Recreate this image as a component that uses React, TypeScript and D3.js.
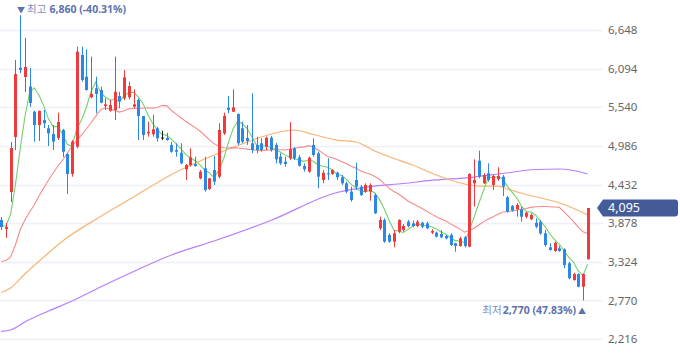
import React from 'react';
import * as d3 from 'd3';

const W = 680;
const H = 358;

// OHLC values, one entry per trading day (oldest first)
const opens = [3923, 3794, 4324, 5113, 6107, 5974, 5838, 5476, 5285, 5357, 5238, 5156, 5099, 5214, 4870, 4583, 4974, 6289, 5978, 5683,
  5812, 5787, 5558, 5491, 5501, 5701, 5668, 5683, 5548, 5644, 5415, 5166, 5152, 5238, 5106, 5099, 4999, 4927, 4888, 4650,
  4712, 4726, 4521, 4664, 4368, 4640, 4544, 5166, 5534, 5476, 5443, 5238, 5099, 5023, 4999, 5023, 4974, 5103, 4999, 4831,
  4759, 4808, 4951, 4822, 4697, 4616, 4999, 4880, 4497, 4593, 4583, 4601, 4535, 4449, 4329, 4497, 4401, 4329, 4329, 4281,
  3804, 3923, 3708, 3612, 3755, 3779, 3898, 3875, 3837, 3884, 3875, 3741, 3741, 3722, 3693, 3708, 3589, 3550, 3675, 3540,
  4449, 4773, 4449, 4593, 4425, 4507, 4544, 4248, 4124, 4076, 4076, 3970, 3933, 3884, 3898, 3732, 3531, 3478, 3517, 3503,
  3302, 3062, 3148, 2966, 3359];
const highs = [3966, 3880, 5042, 6218, 6860, 6533, 6103, 5490, 5495, 5501, 5285, 5285, 5462, 5230, 4880, 5070, 6408, 6408, 6371, 6265,
  5978, 5835, 5668, 5644, 6265, 5763, 6074, 5906, 5797, 5668, 5415, 5333, 5429, 5262, 5204, 5175, 5046, 5023, 5023, 4726,
  4951, 4831, 4640, 4831, 4525, 4841, 5310, 5462, 5701, 5797, 5453, 5333, 5285, 5740, 5118, 5095, 5118, 5130, 5030, 4880,
  4831, 5328, 4970, 4855, 4736, 4831, 5095, 4902, 4640, 4808, 4650, 4616, 4569, 4472, 4401, 4745, 4425, 4449, 4449, 4306,
  3970, 3947, 3732, 3779, 3933, 3866, 3923, 3913, 3923, 3898, 3898, 3789, 3755, 3779, 3708, 3732, 3597, 3683, 3693, 4593,
  4793, 4917, 4593, 4736, 4569, 4679, 4569, 4267, 4138, 4162, 4110, 4042, 4019, 3947, 3923, 3779, 3589, 3612, 3550, 3517,
  3325, 3167, 3157, 3157, 4095];
const lows = [3779, 3665, 4181, 4927, 6031, 5759, 5544, 5046, 5056, 5242, 4984, 4927, 5070, 4826, 4296, 4544, 4951, 5906, 5780, 5668,
  5453, 5596, 5501, 5476, 5357, 5525, 5644, 5654, 5525, 5070, 5070, 5118, 5118, 5046, 5070, 5060, 4888, 4831, 4726, 4497,
  4687, 4687, 4507, 4329, 4353, 4425, 4521, 5142, 5453, 5476, 4999, 5023, 4999, 4880, 4880, 4902, 4927, 4902, 4736, 4712,
  4687, 4783, 4783, 4687, 4616, 4601, 4831, 4378, 4449, 4497, 4569, 4497, 4425, 4306, 4186, 4353, 4267, 4315, 4200, 4009,
  3779, 3597, 3597, 3531, 3732, 3755, 3818, 3818, 3818, 3804, 3790, 3722, 3674, 3660, 3645, 3550, 3468, 3540, 3531, 3531,
  4114, 4521, 4439, 4472, 4353, 4487, 4267, 4028, 4042, 3970, 3898, 3947, 3923, 3804, 3708, 3540, 3483, 3468, 3468, 3230,
  3072, 3052, 2958, 2770, 3359];
const closes = [3822, 3822, 4955, 6017, 6074, 6117, 5601, 5285, 5486, 5310, 5166, 5046, 5328, 4902, 4583, 5046, 6337, 5931, 5787, 5730,
  5730, 5605, 5582, 5572, 5763, 5620, 5970, 5845, 5582, 5415, 5142, 5189, 5224, 5095, 5106, 5070, 4902, 4902, 4736, 4712,
  4822, 4697, 4616, 4353, 4521, 4472, 5214, 5415, 5501, 5539, 5023, 5046, 5056, 4927, 4927, 4927, 5103, 4927, 4793, 4736,
  4726, 4937, 4808, 4702, 4650, 4816, 4855, 4544, 4601, 4578, 4640, 4535, 4449, 4329, 4210, 4401, 4281, 4425, 4425, 4019,
  3923, 3612, 3612, 3732, 3923, 3837, 3837, 3837, 3898, 3827, 3804, 3765, 3683, 3675, 3660, 3564, 3550, 3660, 3550, 4583,
  4497, 4544, 4568, 4497, 4554, 4554, 4401, 4042, 4056, 4138, 3970, 4028, 3995, 3827, 3732, 3564, 3493, 3597, 3478, 3277,
  3087, 3148, 2966, 3148, 4095];

const ma5Head = [3837, 3837, 4009, 4425];
const ma20Head = [3328, 3342, 3392, 3564, 3779, 3923, 4038, 4138, 4267, 4382, 4497, 4597, 4697, 4783, 4884, 4984, 5070, 5142, 5228];

// 60-day and 120-day averages (candle index, value)
const ma60Idx = [0, 2, 5, 9, 13, 21, 28, 36, 45, 50, 55, 60, 62, 66, 71, 75, 79, 83, 87, 92, 96, 99, 101, 105, 107, 111, 115, 119, 122, 124];
const ma60Vals = [2883, 2948, 3148, 3392, 3622, 3973, 4253, 4575, 4855, 4991, 5113, 5199, 5214, 5149, 5068, 5042, 4913, 4805, 4712, 4568, 4475, 4425, 4410, 4410, 4368, 4289, 4224, 4145, 4059, 3995];
const ma120Idx = [0, 2, 5, 10, 15, 21, 28, 36, 45, 57, 71, 78, 85, 92, 99, 106, 113, 118, 121, 124];
const ma120Vals = [2324, 2345, 2460, 2618, 2761, 2962, 3184, 3421, 3622, 3916, 4317, 4401, 4446, 4497, 4532, 4590, 4647, 4654, 4633, 4583];

const yTicks = [2216, 2770, 3324, 3878, 4432, 4986, 5540, 6094, 6648];
const highPrice = 6860;
const highPct = '(-40.31%)';
const lowPrice = 2770;
const lowPct = '(47.83%)';
const lastPrice = 4095;

const UP = '#ef3b3d';
const DOWN = '#2b88e6';
const fmt = d3.format(',');

export default function App() {
  const N = closes.length;
  const x = d3.scaleLinear().domain([0, N - 1]).range([1.2, 587.7]);
  const y = d3.scaleLinear().domain([2216, 6648]).range([339, 30]);

  const ma5 = closes.map((_, i) => (i < 4 ? ma5Head[i] : d3.mean(closes.slice(i - 4, i + 1)) as number));
  const ma20 = closes.map((_, i) => (i < 19 ? ma20Head[i] : d3.mean(closes.slice(i - 19, i + 1)) as number));

  const lineIdx = d3.line<number>().x((_, i) => x(i)).y((v) => y(v));
  const linePts = d3.line<[number, number]>().x((d) => x(d[0])).y((d) => y(d[1])).curve(d3.curveMonotoneX);

  const hiIdx = highs.indexOf(highPrice);
  const loIdx = lows.indexOf(lowPrice);
  const font = '"Noto Sans", "Noto Sans CJK KR", sans-serif';

  return (
    <svg width={W} height={H} style={{ position: 'fixed', left: 0, top: 0, background: '#fff' }} fontFamily={font}>
      {yTicks.map((t) => (
        <g key={t}>
          <line x1={0} x2={603} y1={Math.round(y(t)) + 0.5} y2={Math.round(y(t)) + 0.5} stroke="#eef0f7" strokeWidth={1.3} />
          <text x={608} y={y(t)} dy="0.36em" fontSize={11.5} fill="#666">{fmt(t)}</text>
        </g>
      ))}
      <path d={linePts(ma120Idx.map((d, i) => [d, ma120Vals[i]])) || ''} fill="none" stroke="#b77dfb" strokeWidth={1.2} />
      <path d={linePts(ma60Idx.map((d, i) => [d, ma60Vals[i]])) || ''} fill="none" stroke="#f8b474" strokeWidth={1.2} />
      <path d={lineIdx(ma20) || ''} fill="none" stroke="#f78a8a" strokeWidth={1.1} />
      <path d={lineIdx(ma5) || ''} fill="none" stroke="#74d06a" strokeWidth={1.1} />
      {closes.map((c, i) => {
        const o = opens[i];
        const col = c > o ? UP : c < o ? DOWN : '#222';
        const cx = Math.round(x(i));
        const top = y(Math.max(o, c));
        const h = Math.max(1, Math.abs(y(o) - y(c)));
        return (
          <g key={i}>
            <line x1={cx + 0.5} x2={cx + 0.5} y1={y(highs[i])} y2={y(lows[i])} stroke={col} strokeWidth={1} />
            <rect x={cx - 1} y={top} width={3} height={h} fill={col} />
          </g>
        );
      })}
      <text x={x(hiIdx)} y={13} fontSize={10.5} fill="#5d71ad" textAnchor="start" dx={-3}>
        <tspan fontSize={8}>▼</tspan>
        <tspan fill="#7b8cc0" dx={2}>최고</tspan>
        <tspan fontWeight="bold" dx={3}>{fmt(highPrice)} {highPct}</tspan>
      </text>
      <text x={x(loIdx) + 3} y={314} fontSize={10.5} fill="#5d71ad" textAnchor="end">
        <tspan fill="#7b8cc0">최저</tspan>
        <tspan fontWeight="bold" dx={1}>{fmt(lowPrice)} {lowPct}</tspan>
        <tspan fontSize={8} dx={2}>▲</tspan>
      </text>
      <path
        d={`M597,${y(lastPrice)} L603,${y(lastPrice) - 8.5} H675 Q678,${y(lastPrice) - 8.5} 678,${y(lastPrice) - 5.5} V${y(lastPrice) + 5.5} Q678,${y(lastPrice) + 8.5} 675,${y(lastPrice) + 8.5} H603 Z`}
        fill="#435c99"
      />
      <text x={608} y={y(lastPrice)} dy="0.36em" fontSize={12.5} fill="#fff">{fmt(lastPrice)}</text>
    </svg>
  );
}
